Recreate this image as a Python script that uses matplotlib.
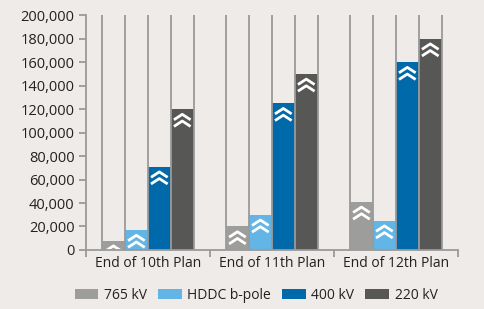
import numpy as np
import matplotlib
matplotlib.use("Agg")
import matplotlib.pyplot as plt
from matplotlib.path import Path
from matplotlib.transforms import offset_copy


# data
plans = ["End of 10th Plan", "End of 11th Plan", "End of 12th Plan"]
series_names = ["765 kV", "HDDC b-pole", "400 kV", "220 kV"]
kv765 = [8000, 20000, 41000]
hddc = [17000, 30000, 25000]
kv400 = [71000, 125000, 160000]
kv220 = [120000, 150000, 180000]
yticks = [0, 20000, 40000, 60000, 80000, 100000, 120000, 140000, 160000, 180000, 200000]

colors = ["#9d9d9c", "#62b5e5", "#0069aa", "#575756"]
bg = "#eeebe8"
line_grey = "#9a9a9a"

plt.rcParams["font.family"] = ["Open Sans", "DejaVu Sans"]

fig = plt.figure(figsize=(4.85, 3.09), dpi=100, facecolor=bg)
ax = fig.add_axes([0.177, 0.191, 0.767, 0.76], facecolor=bg)

# double chevron marker
chevron = Path(
    [(-1, 0.05), (0, 0.7), (1, 0.05), (-1, -0.75), (0, -0.1), (1, -0.75)],
    [Path.MOVETO, Path.LINETO, Path.LINETO, Path.MOVETO, Path.LINETO, Path.LINETO],
)
below_top = offset_copy(ax.transData, fig=fig, y=-8, units="points")

x = np.arange(len(plans))
width = 0.185
ymax = yticks[-1]
all_values = [kv765, hddc, kv400, kv220]

for i, vals in enumerate(all_values):
    pos = x + (i - 1.5) * width
    ax.bar(pos, vals, width, color=colors[i], label=series_names[i], zorder=2)
    ax.scatter(pos, vals, marker=chevron, s=12 ** 2, facecolors="none",
               edgecolors="white", linewidths=2.0, transform=below_top, zorder=4)

# vertical guide lines at every bar edge
edges = np.unique(np.round(np.concatenate(
    [x + (i - 1.5) * width + d for i in range(4) for d in (-width / 2, width / 2)]), 4))
ax.vlines(edges, 0, ymax, colors=line_grey, linewidth=1.3, zorder=3)

ax.set_xlim(-0.5, 2.5)
ax.set_ylim(0, ymax)
ax.set_yticks(yticks)
ax.set_yticklabels([f"{v:,}" for v in yticks])
ax.set_xticks(x)
ax.set_xticklabels(plans)
ax.set_xticks([-0.5, 0.5, 1.5, 2.5], minor=True)

for s in ["top", "right"]:
    ax.spines[s].set_visible(False)
for s in ["left", "bottom"]:
    ax.spines[s].set_color(line_grey)
    ax.spines[s].set_linewidth(1.3)
    ax.spines[s].set_zorder(5)

ax.tick_params(axis="y", colors=line_grey, length=5, width=1.3, labelsize=10.5,
               labelcolor="#222222", pad=3)
ax.tick_params(axis="x", which="major", length=0, labelsize=10, labelcolor="#222222", pad=4)
ax.tick_params(axis="x", which="minor", length=5, width=1.3, colors=line_grey)

fig.legend(loc="lower center", bbox_to_anchor=(0.528, -0.02), ncol=4, frameon=False,
           fontsize=10, handlelength=1.7, handleheight=0.8, columnspacing=0.8,
           handletextpad=0.4, labelcolor="#222222")

fig.savefig("out.png", dpi=100, facecolor=bg)
